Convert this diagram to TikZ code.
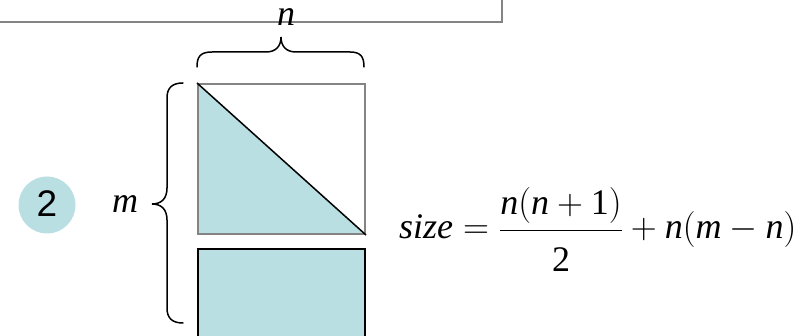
\RequirePackage{fix-cm}
\documentclass[tikz,border=0pt]{standalone}
\usepackage{fontspec}
\setmainfont{Liberation Serif}
\newfontfamily\sansf{Liberation Sans}
\newfontfamily\serifit{Liberation Serif Italic}
\definecolor{lblue}{HTML}{B9DFE3}
\definecolor{bordergray}{HTML}{848484}
\newcommand\iv[1]{\mbox{\serifit #1}}
\newcommand\rv[1]{\mbox{\rmfamily\upshape #1}}
\tikzset{
  graybox/.style={draw=bordergray, line width=2pt},
  bracepath/.style={draw=black, line width=1.5pt, line cap=round},
  bigfont/.style={font=\fontsize{36}{43}\selectfont},
}
\begin{document}
\begin{tikzpicture}[x=1pt,y=-1pt]
\useasboundingbox (0,0) rectangle (806,336);
\clip (0,0) rectangle (806,336);
% top box
\draw[graybox] (-10,-10) rectangle (502,22);
% upper square with triangle
\fill[lblue] (197,83) -- (197,233) -- (364,233) -- cycle;
\node[graybox, minimum width=167pt, minimum height=150pt, anchor=north west, inner sep=0] (sq) at (197,83) {};
\draw[black, line width=1.5pt] (sq.north west) -- (sq.south east);
% lower rectangle
\node[draw=black, fill=lblue, line width=2pt, minimum width=167pt, minimum height=100pt, anchor=north west, inner sep=0] (rect) at (197,248) {};
% top brace
\coordinate (tb) at (281,37);
\draw[bracepath] (197,67) .. controls (197,57) and (200,52) .. (212,52) -- (266,52)
  .. controls (276,52) and (281,46) .. (tb) .. controls (281,46) and (286,52) .. (296,52)
  -- (350,52) .. controls (361,52) and (364,57) .. (364,67);
% left brace
\coordinate (lb) at (152,204);
\draw[bracepath] (183,83) .. controls (172,83) and (167,88) .. (167,98) -- (167,188)
  .. controls (167,199) and (161,204) .. (lb) .. controls (161,204) and (167,209) .. (167,220)
  -- (167,308) .. controls (167,318) and (172,323) .. (183,323);
% labels
\node[bigfont, anchor=base, inner sep=0] (nlab) at (286,26) {\serifit n};
\node[bigfont, anchor=base west, inner sep=0] (mlab) at (112,213) {\serifit m};
\node[circle, fill=lblue, minimum size=57pt, inner sep=0] (c2) at (47,205) {};
\node[font=\sansf\fontsize{37}{44}\selectfont, anchor=base, inner sep=0] (c2t) at (47,217) {2};
% formula
\node[bigfont, anchor=base west, inner sep=0] (formula) at (399,239)
 {$\displaystyle \iv{size} = \frac{\iv{n}\bigl(\iv{n}+\rv{1}\bigr)}{\raisebox{-8pt}{\rv{2}}} + \iv{n}\bigl(\iv{m}-\iv{n}\bigr)$};
\end{tikzpicture}
\end{document}
